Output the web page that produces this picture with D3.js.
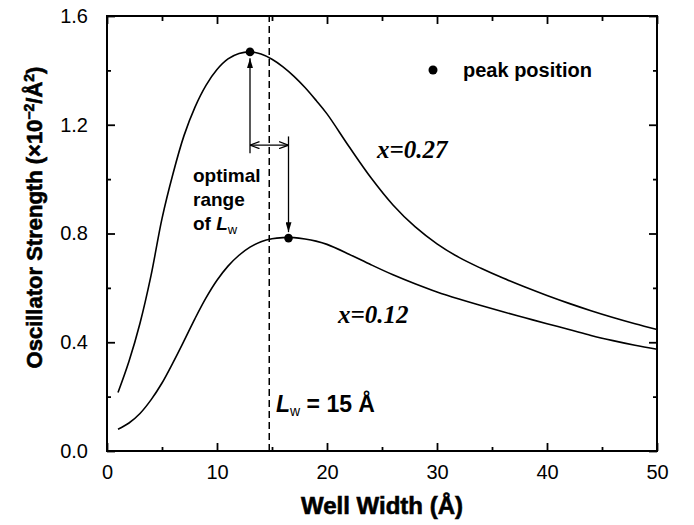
<!DOCTYPE html>
<html>
<head>
<meta charset="utf-8">
<script src="https://cdn.jsdelivr.net/npm/d3@7"></script>
<style>
  body { margin: 0; background: #fff; }
  svg { display: block; font-family: 'Liberation Sans', Arial, sans-serif; }
</style>
</head>
<body>
<div id="chart"></div>
<script>
// well width (Å) and oscillator strength (x10^-2 / Å^2)
const wellWidth = [1, 2, 3, 4, 5, 6, 7, 8, 9, 10, 11, 12, 13, 14, 15, 16, 17, 18, 19, 20,
  22, 24, 26, 28, 30, 32, 34, 36, 38, 40, 42, 44, 46, 48, 50];
const strengthX027 = [0.215, 0.33, 0.47, 0.645, 0.855, 1.02, 1.16, 1.265, 1.345, 1.403, 1.442, 1.462, 1.468, 1.46, 1.441,
  1.413, 1.378, 1.337, 1.29, 1.24, 1.12, 1.005, 0.905, 0.825, 0.762, 0.712, 0.672, 0.636, 0.603, 0.572,
  0.543, 0.516, 0.491, 0.468, 0.447];
const strengthX012 = [0.08, 0.103, 0.138, 0.188, 0.25, 0.325, 0.405, 0.487, 0.563, 0.628, 0.68, 0.72, 0.75, 0.77, 0.781,
  0.785, 0.785, 0.78, 0.772, 0.76, 0.724, 0.685, 0.648, 0.615, 0.585, 0.559, 0.535, 0.512, 0.49, 0.468,
  0.447, 0.425, 0.406, 0.389, 0.374];
const peakWidths = [13, 16.5];
const peakStrengths = [1.468, 0.783];
const xMajorTicks = [0, 10, 20, 30, 40, 50];
const xMinorTicks = [5, 15, 25, 35, 45];
const yMajorTicks = [0, 0.4, 0.8, 1.2, 1.6];
const yMinorTicks = [0.2, 0.6, 1.0, 1.4];
const markerWidth = 14.75;      // dashed L_w = 15 Å line
const rangeLevel = 1.125;       // height of the double arrow
const arrowTops = [1.095, 1.157];
const arrowTips = [1.445, 0.805];

const width = 694;
const height = 525;
const margin = { top: 16, right: 37, bottom: 74, left: 107 };

const svg = d3.select('#chart').append('svg')
  .attr('width', width)
  .attr('height', height);

const x = d3.scaleLinear().domain([0, 50]).range([margin.left, width - margin.right]);
const y = d3.scaleLinear().domain([0, 1.6]).range([height - margin.bottom, margin.top]);

const defs = svg.append('defs');
defs.append('marker')
  .attr('id', 'headFilled')
  .attr('viewBox', '0 0 10 6')
  .attr('refX', 10).attr('refY', 3)
  .attr('markerWidth', 10).attr('markerHeight', 6)
  .attr('markerUnits', 'userSpaceOnUse')
  .attr('orient', 'auto')
  .append('path').attr('d', 'M0,0L10,3L0,6Z').attr('fill', '#000');
defs.append('marker')
  .attr('id', 'headOpen')
  .attr('viewBox', '0 0 10 8')
  .attr('refX', 9.5).attr('refY', 4)
  .attr('markerWidth', 10).attr('markerHeight', 8)
  .attr('markerUnits', 'userSpaceOnUse')
  .attr('orient', 'auto-start-reverse')
  .append('path').attr('d', 'M0,0.5L9.5,4L0,7.5')
  .attr('fill', 'none').attr('stroke', '#000').attr('stroke-width', 1.3);

// ticks (all pointing inward) on all four sides
function drawAxis(axis, transform, labels) {
  const g = svg.append('g').attr('transform', transform).call(axis);
  g.select('.domain').remove();
  g.selectAll('.tick line').attr('stroke', '#000').attr('stroke-width', 1.8);
  g.selectAll('text')
    .attr('font-size', 20)
    .attr('fill', '#000')
    .attr('font-family', "'Liberation Sans', Arial, sans-serif");
  if (!labels) g.selectAll('text').remove();
  return g;
}

const yFmt = d3.format('.1f');

drawAxis(d3.axisBottom(x).tickValues(xMajorTicks).tickSize(-8).tickPadding(14), `translate(0,${y(0)})`, true);
drawAxis(d3.axisBottom(x).tickValues(xMinorTicks).tickSize(-4).tickFormat(''), `translate(0,${y(0)})`, false);
drawAxis(d3.axisTop(x).tickValues(xMajorTicks).tickSize(-8).tickFormat(''), `translate(0,${y(1.6)})`, false);
drawAxis(d3.axisTop(x).tickValues(xMinorTicks).tickSize(-5).tickFormat(''), `translate(0,${y(1.6)})`, false);
drawAxis(d3.axisLeft(y).tickValues(yMajorTicks).tickSize(-8).tickPadding(19).tickFormat(yFmt), `translate(${x(0)},0)`, true);
drawAxis(d3.axisLeft(y).tickValues(yMinorTicks).tickSize(-4).tickFormat(''), `translate(${x(0)},0)`, false);
drawAxis(d3.axisRight(y).tickValues(yMajorTicks).tickSize(-8).tickFormat(''), `translate(${x(50)},0)`, false);
drawAxis(d3.axisRight(y).tickValues(yMinorTicks).tickSize(-4).tickFormat(''), `translate(${x(50)},0)`, false);

svg.append('rect')
  .attr('x', x(0)).attr('y', y(1.6))
  .attr('width', x(50) - x(0)).attr('height', y(0) - y(1.6))
  .attr('fill', 'none').attr('stroke', '#000').attr('stroke-width', 2);

// dashed reference line
svg.append('line')
  .attr('x1', x(markerWidth)).attr('x2', x(markerWidth))
  .attr('y1', y(0)).attr('y2', y(1.6))
  .attr('stroke', '#000').attr('stroke-width', 1.5)
  .attr('stroke-dasharray', '7,4');

const line = d3.line()
  .x((d, i) => x(wellWidth[i]))
  .y(d => y(d))
  .curve(d3.curveCatmullRom.alpha(0.5));

[strengthX027, strengthX012].forEach(series => {
  svg.append('path')
    .attr('d', line(series))
    .attr('fill', 'none')
    .attr('stroke', '#000')
    .attr('stroke-width', 1.6);
});

svg.append('g').selectAll('circle')
  .data(peakWidths)
  .join('circle')
  .attr('cx', d => x(d))
  .attr('cy', (d, i) => y(peakStrengths[i]))
  .attr('r', 4.3)
  .attr('fill', '#000');

// optimal range arrows
peakWidths.forEach((w, i) => {
  svg.append('line')
    .attr('x1', x(w)).attr('x2', x(w))
    .attr('y1', y(arrowTops[i])).attr('y2', y(arrowTips[i]))
    .attr('stroke', '#000').attr('stroke-width', 1.3)
    .attr('marker-end', 'url(#headFilled)');
});
svg.append('line')
  .attr('x1', x(peakWidths[0])).attr('x2', x(peakWidths[1]))
  .attr('y1', y(rangeLevel)).attr('y2', y(rangeLevel))
  .attr('stroke', '#000').attr('stroke-width', 1.3)
  .attr('marker-start', 'url(#headOpen)')
  .attr('marker-end', 'url(#headOpen)');

// annotations
const note = svg.append('g')
  .attr('font-weight', 'bold')
  .attr('font-size', 19)
  .attr('fill', '#000');
note.append('text').attr('x', 193).attr('y', 182).text('optimal');
note.append('text').attr('x', 193).attr('y', 206).text('range');
const ofLw = note.append('text').attr('x', 193).attr('y', 230);
ofLw.append('tspan').text('of ');
ofLw.append('tspan').attr('font-style', 'italic').text('L');
ofLw.append('tspan').attr('font-size', 13).attr('font-weight', 'normal').attr('dy', 4).text('w');

const lw = svg.append('text')
  .attr('x', 276).attr('y', 412)
  .attr('font-weight', 'bold')
  .attr('font-size', 23);
lw.append('tspan').attr('font-style', 'italic').text('L');
lw.append('tspan').attr('font-size', 14).attr('font-weight', 'normal').attr('dy', 4).text('w');
lw.append('tspan').attr('dy', -4).text(' = 15 Å');

svg.append('circle').attr('cx', 433).attr('cy', 70).attr('r', 4.5).attr('fill', '#000');
svg.append('text')
  .attr('x', 463).attr('y', 77)
  .attr('font-weight', 'bold').attr('font-size', 20)
  .text('peak position');

const seriesLabels = [
  { text: 'x=0.27', x: 377, y: 158 },
  { text: 'x=0.12', x: 338, y: 323 }
];
svg.append('g').selectAll('text')
  .data(seriesLabels)
  .join('text')
  .attr('x', d => d.x).attr('y', d => d.y)
  .attr('font-family', "'Liberation Serif', 'Times New Roman', serif")
  .attr('font-style', 'italic').attr('font-weight', 'bold')
  .attr('font-size', 25)
  .text(d => d.text);

// axis titles
svg.append('text')
  .attr('x', (x(0) + x(50)) / 2).attr('y', 514)
  .attr('text-anchor', 'middle')
  .attr('font-weight', 'bold').attr('font-size', 24)
  .attr('stroke', '#000').attr('stroke-width', 0.6)
  .text('Well Width (Å)');

const yTitle = svg.append('text')
  .attr('transform', `translate(42,${(y(0) + y(1.6)) / 2 - 16}) rotate(-90)`)
  .attr('text-anchor', 'middle')
  .attr('font-weight', 'bold').attr('font-size', 22)
  .attr('stroke', '#000').attr('stroke-width', 0.6);
yTitle.append('tspan').text('Oscillator Strength (×10');
yTitle.append('tspan').attr('font-size', 14).attr('dy', -8).text('−2');
yTitle.append('tspan').attr('dy', 8).text('/Å');
yTitle.append('tspan').attr('font-size', 14).attr('dy', -8).text('2');
yTitle.append('tspan').attr('dy', 8).text(')');
</script>
</body>
</html>
